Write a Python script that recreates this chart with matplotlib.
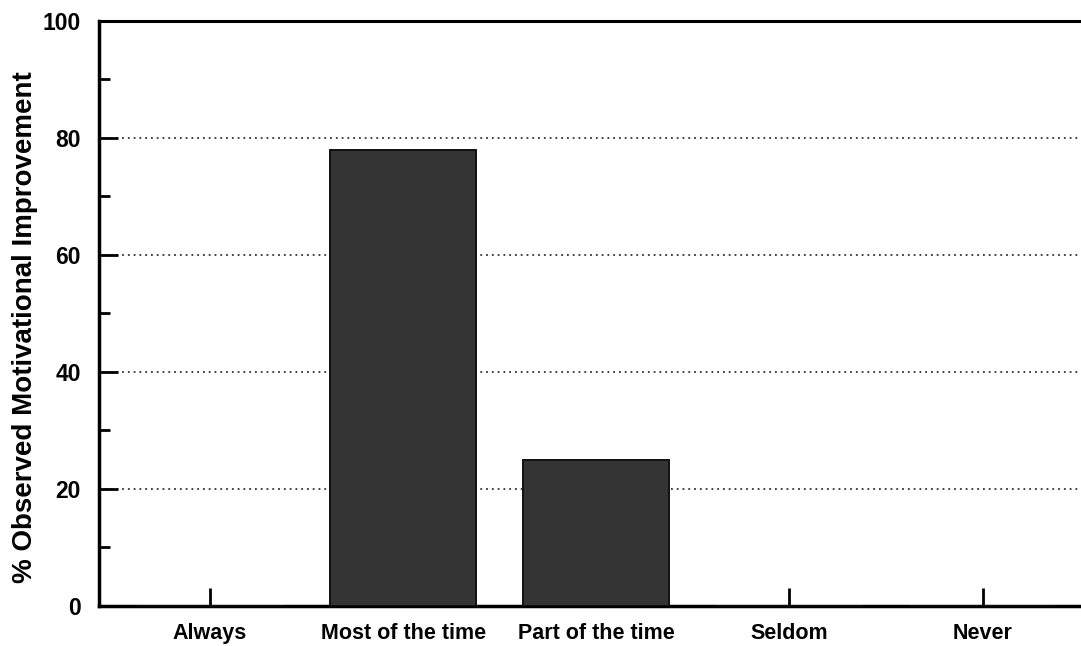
import matplotlib
matplotlib.use("Agg")
import matplotlib.pyplot as plt
from matplotlib.ticker import MultipleLocator

categories = ["Always", "Most of the time", "Part of the time", "Seldom", "Never"]
values = [0, 78, 25, 0, 0]
ylabel = "% Observed Motivational Improvement"

plt.rcParams['font.family'] = ['Liberation Sans', 'DejaVu Sans']
plt.rcParams['font.weight'] = 'bold'

fig = plt.figure(figsize=(10.81, 6.46), dpi=100)
ax = fig.add_axes([0.0916, 0.062, 0.9084, 0.9055])

x = list(range(len(categories)))
ax.bar(x, values, width=0.755, color="#343434", edgecolor="#111111", linewidth=1.4, zorder=3)

ax.set_xlim(-0.575, 4.51)
ax.set_ylim(0, 100)
ax.set_xticks(x)
ax.set_xticklabels(categories, fontsize=15.5, fontweight='bold')
ax.yaxis.set_major_locator(MultipleLocator(20))
ax.yaxis.set_minor_locator(MultipleLocator(10))
ax.tick_params(axis='y', which='major', direction='in', length=14, width=2, pad=13, labelsize=16.5)
ax.tick_params(axis='y', which='minor', direction='in', length=8, width=2)
ax.tick_params(axis='x', direction='in', length=13, width=2, pad=12)
for lbl in ax.get_yticklabels():
    lbl.set_fontweight('bold')

ax.yaxis.grid(True, which='major', linestyle=(0, (1, 2.2)), color="#333333", linewidth=1.3, zorder=0)
ax.set_axisbelow(True)

ax.spines['right'].set_visible(False)
ax.spines['left'].set_linewidth(2.5)
ax.spines['bottom'].set_linewidth(2.5)
ax.spines['top'].set_linewidth(2.2)

ax.set_ylabel(ylabel, fontsize=20, fontweight='bold')
ax.yaxis.set_label_coords(-0.062, 0.477)

fig.savefig("out.png", dpi=100)
